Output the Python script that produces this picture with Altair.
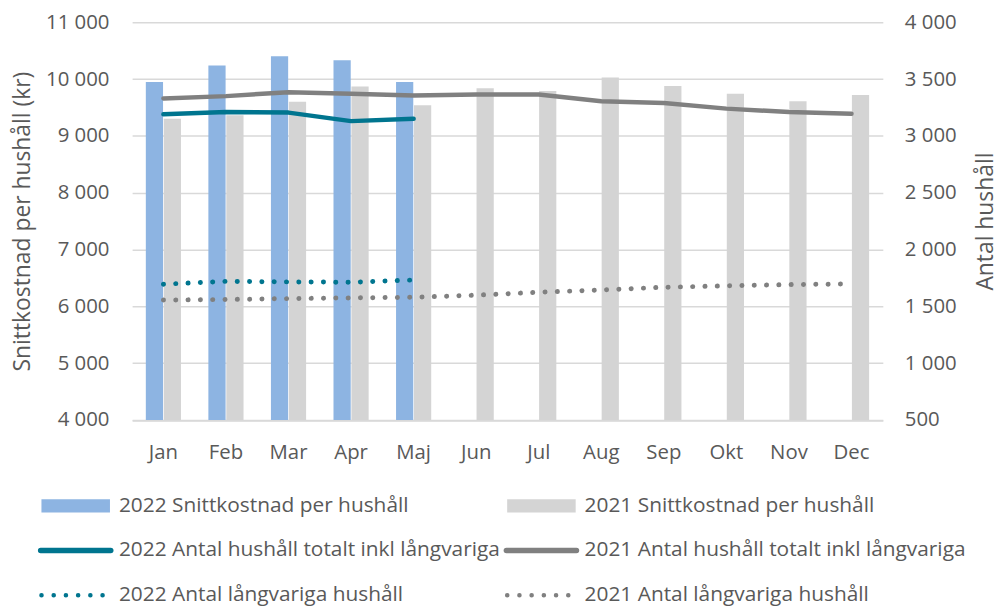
import altair as alt
import pandas as pd

# ---------------- data ----------------
months = ["Jan", "Feb", "Mar", "Apr", "Maj", "Jun", "Jul", "Aug", "Sep", "Okt", "Nov", "Dec"]
cost_2022 = [9950, 10240, 10400, 10330, 9950]
cost_2021 = [9300, 9365, 9600, 9870, 9540, 9840, 9790, 10030, 9880, 9740, 9610, 9720]
total_2022 = [3190, 3210, 3205, 3130, 3150]
total_2021 = [3330, 3350, 3385, 3370, 3355, 3365, 3365, 3305, 3290, 3240, 3210, 3195]
long_2022 = [1695, 1720, 1715, 1712, 1732]
long_2021 = [1555, 1560, 1568, 1574, 1580, 1598, 1624, 1644, 1668, 1680, 1691, 1697]
cost_ticks = [4000, 5000, 6000, 7000, 8000, 9000, 10000, 11000]
count_ticks = [500, 1000, 1500, 2000, 2500, 3000, 3500, 4000]

series = [
    "2022 Snittkostnad per hushåll",
    "2021 Snittkostnad per hushåll",
    "2022 Antal hushåll totalt inkl långvariga",
    "2021 Antal hushåll totalt inkl långvariga",
    "2022 Antal långvariga hushåll",
    "2021 Antal långvariga hushåll",
]
colors = ["#8DB4E2", "#D4D4D4", "#00758F", "#808080", "#00758F", "#808080"]

TXT = "#595959"
FONT = "Open Sans"

# ---------------- tables ----------------
bars_df = pd.concat([
    pd.DataFrame({"month": months[:len(cost_2022)], "year": "2022", "cost": cost_2022, "series": series[0]}),
    pd.DataFrame({"month": months[:len(cost_2021)], "year": "2021", "cost": cost_2021, "series": series[1]}),
])

def line_df(vals, name):
    return pd.DataFrame({"month": months[:len(vals)], "value": vals, "series": name})

color_scale = alt.Scale(domain=series, range=colors)
fmt = "replace(format(datum.value, ','), ',', ' ')"

x_axis = alt.Axis(title=None, labelAngle=0, ticks=False, domainColor="#D9D9D9",
                  domainWidth=1.5, labelPadding=23, labelFontSize=20.5)
x_enc = alt.X("month:N", sort=months,
              scale=alt.Scale(paddingInner=0.438, paddingOuter=0.219), axis=x_axis)

bars = alt.Chart(bars_df).mark_bar().encode(
    x=x_enc,
    xOffset=alt.XOffset("year:N", sort=["2022", "2021"],
                        scale=alt.Scale(paddingInner=0.04, paddingOuter=0)),
    y=alt.Y("cost:Q", scale=alt.Scale(domain=[cost_ticks[0], cost_ticks[-1]], nice=False, zero=False),
            axis=alt.Axis(values=cost_ticks, labelExpr=fmt, title="Snittkostnad per hushåll (kr)",
                          domain=False, ticks=False, gridColor="#D9D9D9", gridWidth=1.5,
                          labelPadding=23.3, titlePadding=11.2)),
    y2=alt.Y2Datum(cost_ticks[0]),
    color=alt.Color("series:N", scale=color_scale, legend=None),
)

y_right = alt.Y("value:Q",
                scale=alt.Scale(domain=[count_ticks[0], count_ticks[-1]], nice=False, zero=False),
                axis=alt.Axis(orient="right", values=count_ticks, labelExpr=fmt, title="Antal hushåll",
                              titleAngle=270, titleBaseline="top",
                              domain=False, ticks=False, grid=False, labelPadding=21.7,
                              titlePadding=18.8))

def solid(vals, name, col):
    return alt.Chart(line_df(vals, name)).mark_line(
        color=col, strokeWidth=4.5, strokeCap="round", strokeJoin="round"
    ).encode(x=x_enc, y=y_right)

def dotted(vals, name, col):
    return alt.Chart(line_df(vals, name)).mark_line(
        color=col, strokeWidth=5, strokeCap="round", strokeDash=[0.1, 12.3]
    ).encode(x=x_enc, y=y_right)

lines = alt.layer(
    solid(total_2021, series[3], colors[3]),
    solid(total_2022, series[2], colors[2]),
    dotted(long_2021, series[5], colors[5]),
    dotted(long_2022, series[4], colors[4]),
)

main = alt.layer(bars, lines).resolve_scale(y="independent").properties(width=756, height=400.5)

# ---------------- legend ----------------
leg_df = pd.DataFrame({"label": series,
                       "col": [i % 2 for i in range(len(series))],
                       "row": [i // 2 for i in range(len(series))]})

leg_x = alt.X("col:Q", scale=alt.Scale(domain=[0.1947, 1.8066], nice=False, zero=False), axis=None)
leg_y = alt.Y("row:Q", scale=alt.Scale(domain=[0, 2], reverse=True, nice=False, zero=False), axis=None)

leg_base = alt.Chart(leg_df).encode(
    x=leg_x, x2="col:Q", y=leg_y,
    color=alt.Color("label:N", scale=color_scale, legend=None),
)

leg_bar = leg_base.transform_filter("datum.row == 0").mark_rule(
    strokeWidth=13.4, strokeCap="butt", x2Offset=69)
leg_line = leg_base.transform_filter("datum.row == 1").mark_rule(
    strokeWidth=5.5, strokeCap="round", xOffset=-0.8, x2Offset=69.8)
leg_dot = leg_base.transform_filter("datum.row == 2").mark_rule(
    strokeWidth=4.5, strokeCap="round", strokeDash=[0.1, 12.2], xOffset=0, x2Offset=62)
leg_text = alt.Chart(leg_df).mark_text(
    align="left", baseline="middle", dx=78, font=FONT, fontSize=21, color=TXT
).encode(x=leg_x, y=leg_y, text="label:N")

legend = alt.layer(leg_bar, leg_line, leg_dot, leg_text).properties(width=756, height=90)

chart = alt.vconcat(main, legend, spacing=32).properties(
    padding={"left": 3, "top": 2.25, "right": 0, "bottom": 0},
    usermeta={"embedOptions": {
        "defaultStyle": "#vis.vega-embed svg{flex-shrink:0} html,body{overflow:hidden}"}},
).configure_view(stroke=None).configure_axis(
    labelFont=FONT, titleFont=FONT, labelColor=TXT, titleColor=TXT,
    labelFontSize=20.5, titleFontSize=23, titleFontWeight="normal",
)

chart.save("out.html", embed_options={"renderer": "svg", "actions": False})
